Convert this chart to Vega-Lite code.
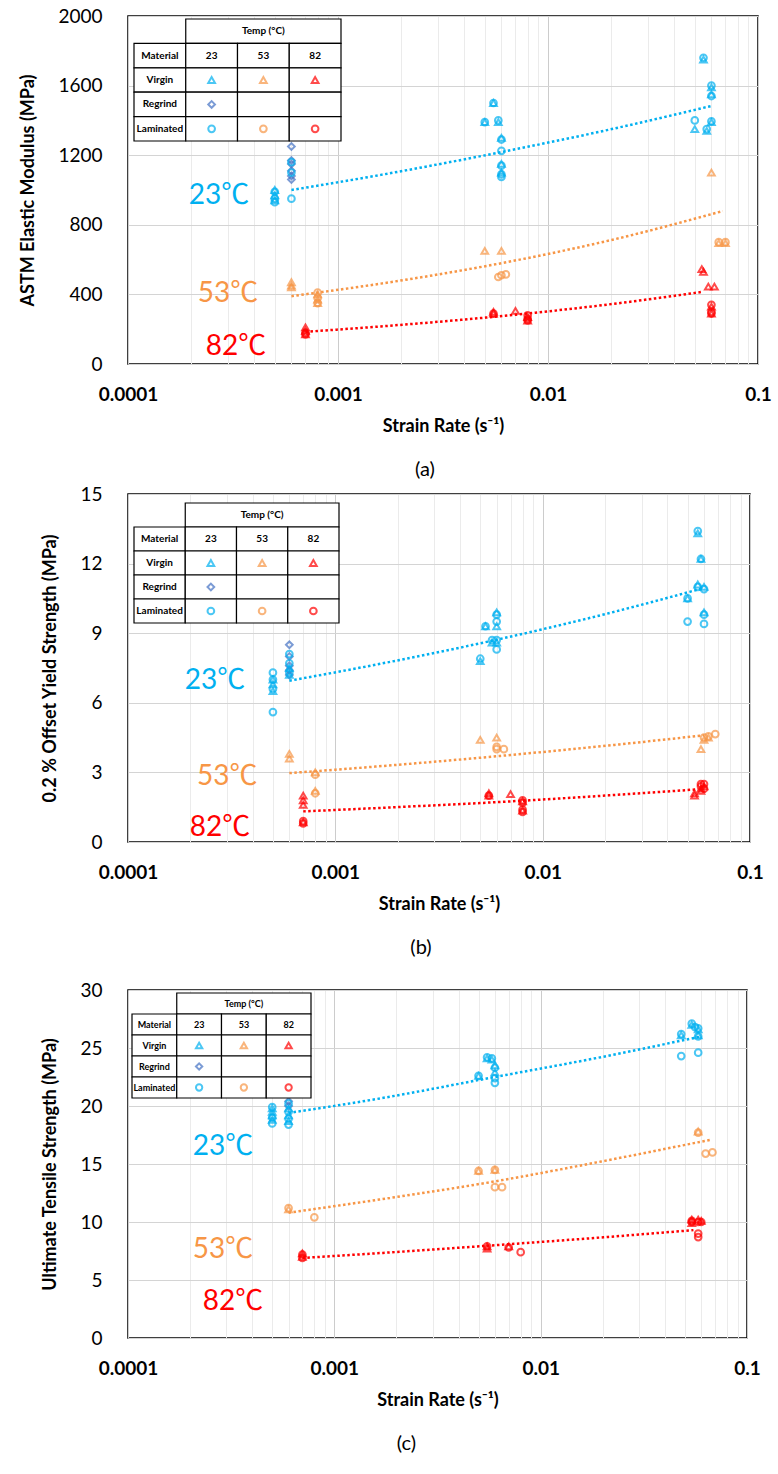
{
  "$schema": "https://vega.github.io/schema/vega-lite/v6.json",
  "background": "white",
  "padding": {"left": 19, "top": 6, "right": 10, "bottom": 4},
  "config": {
    "font": "Lato",
    "view": {"stroke": "black", "strokeWidth": 1.5},
    "axis": {"ticks": false, "domain": false, "labelFont": "Lato", "labelFontSize": 19, "labelColor": "#000", "titleFont": "Lato", "titleFontSize": 18, "titleFontWeight": "bold", "titleColor": "#000", "gridWidth": 1, "labelOverlap": false},
    "title": {"font": "Lato", "fontSize": 20, "fontWeight": "normal", "color": "#000"}
  },
  "datasets": {
    "tbl_rect": [
      {"row": "Temp", "from": "23", "to": "82"},
      {"row": "Material", "from": "Material", "to": "Material"}, {"row": "Material", "from": "23", "to": "23"}, {"row": "Material", "from": "53", "to": "53"}, {"row": "Material", "from": "82", "to": "82"},
      {"row": "Virgin", "from": "Material", "to": "Material"}, {"row": "Virgin", "from": "23", "to": "23"}, {"row": "Virgin", "from": "53", "to": "53"}, {"row": "Virgin", "from": "82", "to": "82"},
      {"row": "Regrind", "from": "Material", "to": "Material"}, {"row": "Regrind", "from": "23", "to": "23"}, {"row": "Regrind", "from": "53", "to": "53"}, {"row": "Regrind", "from": "82", "to": "82"},
      {"row": "Laminated", "from": "Material", "to": "Material"}, {"row": "Laminated", "from": "23", "to": "23"}, {"row": "Laminated", "from": "53", "to": "53"}, {"row": "Laminated", "from": "82", "to": "82"}
    ],
    "tbl_text": [
      {"row": "Temp", "col": "53", "text": "Temp (°C)"},
      {"row": "Material", "col": "Material", "text": "Material"}, {"row": "Material", "col": "23", "text": "23"}, {"row": "Material", "col": "53", "text": "53"}, {"row": "Material", "col": "82", "text": "82"},
      {"row": "Virgin", "col": "Material", "text": "Virgin"}, {"row": "Regrind", "col": "Material", "text": "Regrind"}, {"row": "Laminated", "col": "Material", "text": "Laminated"}
    ],
    "tbl_sym": [
      {"material": "Virgin", "temp": "23"}, {"material": "Virgin", "temp": "53"}, {"material": "Virgin", "temp": "82"},
      {"material": "Regrind", "temp": "23"},
      {"material": "Laminated", "temp": "23"}, {"material": "Laminated", "temp": "53"}, {"material": "Laminated", "temp": "82"}
    ],
    "annA": [{"temp": "23", "rate": 0.000271, "value": 965, "label": "23℃"}, {"temp": "53", "rate": 0.000299, "value": 402, "label": "53℃"}, {"temp": "82", "rate": 0.000327, "value": 98, "label": "82℃"}],
    "annB": [{"temp": "23", "rate": 0.000263, "value": 6.96, "label": "23℃"}, {"temp": "53", "rate": 0.000301, "value": 2.8, "label": "53℃"}, {"temp": "82", "rate": 0.000278, "value": 0.6, "label": "82℃"}],
    "annC": [{"temp": "23", "rate": 0.000289, "value": 16.5, "label": "23℃"}, {"temp": "53", "rate": 0.000289, "value": 7.6, "label": "53℃"}, {"temp": "82", "rate": 0.000323, "value": 3.1, "label": "82℃"}],
    "trA": [
      {"temp": "23", "rate": 0.0006, "value": 1000}, {"temp": "23", "rate": 0.0016, "value": 1087}, {"temp": "23", "rate": 0.006, "value": 1218}, {"temp": "23", "rate": 0.0208, "value": 1354}, {"temp": "23", "rate": 0.06, "value": 1483},
      {"temp": "53", "rate": 0.0006, "value": 390}, {"temp": "53", "rate": 0.0016, "value": 462}, {"temp": "53", "rate": 0.0064, "value": 586}, {"temp": "53", "rate": 0.0206, "value": 716}, {"temp": "53", "rate": 0.068, "value": 879},
      {"temp": "82", "rate": 0.0007, "value": 185}, {"temp": "82", "rate": 0.0016, "value": 216}, {"temp": "82", "rate": 0.0055, "value": 271}, {"temp": "82", "rate": 0.0206, "value": 346}, {"temp": "82", "rate": 0.054, "value": 414}
    ],
    "trB": [
      {"temp": "23", "rate": 0.0006, "value": 6.95}, {"temp": "23", "rate": 0.00156, "value": 7.64}, {"temp": "23", "rate": 0.006, "value": 8.72}, {"temp": "23", "rate": 0.0208, "value": 9.86}, {"temp": "23", "rate": 0.06, "value": 10.95},
      {"temp": "53", "rate": 0.0006, "value": 2.97}, {"temp": "53", "rate": 0.00156, "value": 3.25}, {"temp": "53", "rate": 0.0066, "value": 3.73}, {"temp": "53", "rate": 0.0208, "value": 4.16}, {"temp": "53", "rate": 0.06, "value": 4.6},
      {"temp": "82", "rate": 0.0007, "value": 1.32}, {"temp": "82", "rate": 0.00156, "value": 1.46}, {"temp": "82", "rate": 0.008, "value": 1.78}, {"temp": "82", "rate": 0.0208, "value": 2.01}, {"temp": "82", "rate": 0.056, "value": 2.27}
    ],
    "trC": [
      {"temp": "23", "rate": 0.0006, "value": 19.4}, {"temp": "23", "rate": 0.0016, "value": 20.6}, {"temp": "23", "rate": 0.006, "value": 22.5}, {"temp": "23", "rate": 0.0208, "value": 24.3}, {"temp": "23", "rate": 0.06, "value": 26.0},
      {"temp": "53", "rate": 0.0006, "value": 10.8}, {"temp": "53", "rate": 0.0016, "value": 11.9}, {"temp": "53", "rate": 0.006, "value": 13.5}, {"temp": "53", "rate": 0.0208, "value": 15.3}, {"temp": "53", "rate": 0.067, "value": 17.1},
      {"temp": "82", "rate": 0.0007, "value": 6.9}, {"temp": "82", "rate": 0.0016, "value": 7.3}, {"temp": "82", "rate": 0.006, "value": 8.0}, {"temp": "82", "rate": 0.0208, "value": 8.7}, {"temp": "82", "rate": 0.055, "value": 9.3}
    ],
    "ptsA": [
      {"rate": 0.0005, "value": 1000, "temp": "23", "material": "Virgin"}, {"rate": 0.0005, "value": 970, "temp": "23", "material": "Virgin"}, {"rate": 0.0005, "value": 940, "temp": "23", "material": "Virgin"},
      {"rate": 0.0005, "value": 990, "temp": "23", "material": "Laminated"}, {"rate": 0.0005, "value": 950, "temp": "23", "material": "Laminated"}, {"rate": 0.0005, "value": 930, "temp": "23", "material": "Laminated"},
      {"rate": 0.0006, "value": 1250, "temp": "23", "material": "Regrind"}, {"rate": 0.0006, "value": 1170, "temp": "23", "material": "Regrind"}, {"rate": 0.0006, "value": 1150, "temp": "23", "material": "Regrind"}, {"rate": 0.0006, "value": 1110, "temp": "23", "material": "Regrind"}, {"rate": 0.0006, "value": 1080, "temp": "23", "material": "Regrind"}, {"rate": 0.0006, "value": 1060, "temp": "23", "material": "Regrind"},
      {"rate": 0.0006, "value": 1160, "temp": "23", "material": "Laminated"}, {"rate": 0.0006, "value": 1100, "temp": "23", "material": "Laminated"}, {"rate": 0.0006, "value": 950, "temp": "23", "material": "Laminated"},
      {"rate": 0.005, "value": 1390, "temp": "23", "material": "Virgin"}, {"rate": 0.005, "value": 1390, "temp": "23", "material": "Laminated"},
      {"rate": 0.0055, "value": 1500, "temp": "23", "material": "Virgin"}, {"rate": 0.0055, "value": 1500, "temp": "23", "material": "Laminated"},
      {"rate": 0.0058, "value": 1390, "temp": "23", "material": "Virgin"}, {"rate": 0.0058, "value": 1400, "temp": "23", "material": "Laminated"},
      {"rate": 0.006, "value": 1300, "temp": "23", "material": "Virgin"}, {"rate": 0.006, "value": 1150, "temp": "23", "material": "Virgin"}, {"rate": 0.006, "value": 1100, "temp": "23", "material": "Virgin"},
      {"rate": 0.006, "value": 1290, "temp": "23", "material": "Laminated"}, {"rate": 0.006, "value": 1225, "temp": "23", "material": "Laminated"}, {"rate": 0.006, "value": 1140, "temp": "23", "material": "Laminated"}, {"rate": 0.006, "value": 1090, "temp": "23", "material": "Laminated"}, {"rate": 0.006, "value": 1075, "temp": "23", "material": "Laminated"},
      {"rate": 0.055, "value": 1750, "temp": "23", "material": "Virgin"}, {"rate": 0.055, "value": 1760, "temp": "23", "material": "Laminated"},
      {"rate": 0.06, "value": 1590, "temp": "23", "material": "Virgin"}, {"rate": 0.06, "value": 1550, "temp": "23", "material": "Virgin"}, {"rate": 0.06, "value": 1390, "temp": "23", "material": "Virgin"},
      {"rate": 0.06, "value": 1600, "temp": "23", "material": "Laminated"}, {"rate": 0.06, "value": 1540, "temp": "23", "material": "Laminated"}, {"rate": 0.06, "value": 1395, "temp": "23", "material": "Laminated"},
      {"rate": 0.05, "value": 1400, "temp": "23", "material": "Laminated"}, {"rate": 0.05, "value": 1350, "temp": "23", "material": "Virgin"},
      {"rate": 0.057, "value": 1340, "temp": "23", "material": "Virgin"}, {"rate": 0.057, "value": 1350, "temp": "23", "material": "Laminated"},
      {"rate": 0.0006, "value": 470, "temp": "53", "material": "Virgin"}, {"rate": 0.0006, "value": 450, "temp": "53", "material": "Virgin"}, {"rate": 0.0006, "value": 440, "temp": "53", "material": "Virgin"},
      {"rate": 0.0008, "value": 410, "temp": "53", "material": "Laminated"}, {"rate": 0.0008, "value": 380, "temp": "53", "material": "Laminated"}, {"rate": 0.0008, "value": 350, "temp": "53", "material": "Laminated"},
      {"rate": 0.0008, "value": 400, "temp": "53", "material": "Virgin"}, {"rate": 0.0008, "value": 370, "temp": "53", "material": "Virgin"}, {"rate": 0.0008, "value": 350, "temp": "53", "material": "Virgin"},
      {"rate": 0.005, "value": 650, "temp": "53", "material": "Virgin"}, {"rate": 0.006, "value": 650, "temp": "53", "material": "Virgin"},
      {"rate": 0.0058, "value": 500, "temp": "53", "material": "Laminated"}, {"rate": 0.006, "value": 510, "temp": "53", "material": "Laminated"}, {"rate": 0.0063, "value": 515, "temp": "53", "material": "Laminated"},
      {"rate": 0.06, "value": 1100, "temp": "53", "material": "Virgin"},
      {"rate": 0.065, "value": 700, "temp": "53", "material": "Laminated"}, {"rate": 0.07, "value": 700, "temp": "53", "material": "Laminated"}, {"rate": 0.065, "value": 695, "temp": "53", "material": "Virgin"}, {"rate": 0.07, "value": 695, "temp": "53", "material": "Virgin"},
      {"rate": 0.0007, "value": 210, "temp": "82", "material": "Virgin"}, {"rate": 0.0007, "value": 190, "temp": "82", "material": "Virgin"}, {"rate": 0.0007, "value": 170, "temp": "82", "material": "Virgin"},
      {"rate": 0.0007, "value": 180, "temp": "82", "material": "Laminated"}, {"rate": 0.0007, "value": 170, "temp": "82", "material": "Laminated"},
      {"rate": 0.0055, "value": 300, "temp": "82", "material": "Virgin"}, {"rate": 0.0055, "value": 290, "temp": "82", "material": "Virgin"}, {"rate": 0.0055, "value": 290, "temp": "82", "material": "Laminated"},
      {"rate": 0.007, "value": 305, "temp": "82", "material": "Virgin"},
      {"rate": 0.008, "value": 280, "temp": "82", "material": "Laminated"}, {"rate": 0.008, "value": 260, "temp": "82", "material": "Laminated"}, {"rate": 0.008, "value": 250, "temp": "82", "material": "Laminated"},
      {"rate": 0.008, "value": 270, "temp": "82", "material": "Virgin"}, {"rate": 0.008, "value": 250, "temp": "82", "material": "Virgin"},
      {"rate": 0.054, "value": 545, "temp": "82", "material": "Virgin"}, {"rate": 0.055, "value": 530, "temp": "82", "material": "Virgin"},
      {"rate": 0.058, "value": 445, "temp": "82", "material": "Virgin"}, {"rate": 0.062, "value": 445, "temp": "82", "material": "Virgin"},
      {"rate": 0.06, "value": 340, "temp": "82", "material": "Laminated"}, {"rate": 0.06, "value": 300, "temp": "82", "material": "Laminated"}, {"rate": 0.06, "value": 290, "temp": "82", "material": "Laminated"},
      {"rate": 0.06, "value": 330, "temp": "82", "material": "Virgin"}, {"rate": 0.06, "value": 290, "temp": "82", "material": "Virgin"}
    ],
    "ptsB": [
      {"rate": 0.0005, "value": 7.3, "temp": "23", "material": "Laminated"}, {"rate": 0.0005, "value": 7.0, "temp": "23", "material": "Laminated"}, {"rate": 0.0005, "value": 6.6, "temp": "23", "material": "Laminated"}, {"rate": 0.0005, "value": 5.6, "temp": "23", "material": "Laminated"},
      {"rate": 0.0005, "value": 7.0, "temp": "23", "material": "Virgin"}, {"rate": 0.0005, "value": 6.8, "temp": "23", "material": "Virgin"}, {"rate": 0.0005, "value": 6.5, "temp": "23", "material": "Virgin"},
      {"rate": 0.0006, "value": 8.5, "temp": "23", "material": "Regrind"}, {"rate": 0.0006, "value": 8.0, "temp": "23", "material": "Regrind"}, {"rate": 0.0006, "value": 7.6, "temp": "23", "material": "Regrind"}, {"rate": 0.0006, "value": 7.4, "temp": "23", "material": "Regrind"}, {"rate": 0.0006, "value": 7.2, "temp": "23", "material": "Regrind"},
      {"rate": 0.0006, "value": 8.1, "temp": "23", "material": "Laminated"}, {"rate": 0.0006, "value": 7.7, "temp": "23", "material": "Laminated"}, {"rate": 0.0006, "value": 7.3, "temp": "23", "material": "Laminated"},
      {"rate": 0.0006, "value": 7.5, "temp": "23", "material": "Virgin"}, {"rate": 0.0006, "value": 7.2, "temp": "23", "material": "Virgin"},
      {"rate": 0.005, "value": 7.8, "temp": "23", "material": "Virgin"}, {"rate": 0.005, "value": 7.9, "temp": "23", "material": "Laminated"},
      {"rate": 0.0053, "value": 9.3, "temp": "23", "material": "Virgin"}, {"rate": 0.0053, "value": 9.3, "temp": "23", "material": "Laminated"},
      {"rate": 0.006, "value": 9.9, "temp": "23", "material": "Virgin"}, {"rate": 0.006, "value": 9.3, "temp": "23", "material": "Virgin"}, {"rate": 0.006, "value": 8.6, "temp": "23", "material": "Virgin"},
      {"rate": 0.006, "value": 9.8, "temp": "23", "material": "Laminated"}, {"rate": 0.006, "value": 9.5, "temp": "23", "material": "Laminated"}, {"rate": 0.006, "value": 8.7, "temp": "23", "material": "Laminated"}, {"rate": 0.006, "value": 8.3, "temp": "23", "material": "Laminated"},
      {"rate": 0.0057, "value": 8.7, "temp": "23", "material": "Laminated"}, {"rate": 0.0057, "value": 8.6, "temp": "23", "material": "Virgin"},
      {"rate": 0.05, "value": 10.5, "temp": "23", "material": "Virgin"}, {"rate": 0.05, "value": 10.5, "temp": "23", "material": "Laminated"}, {"rate": 0.05, "value": 9.5, "temp": "23", "material": "Laminated"},
      {"rate": 0.056, "value": 13.3, "temp": "23", "material": "Virgin"}, {"rate": 0.056, "value": 13.4, "temp": "23", "material": "Laminated"}, {"rate": 0.056, "value": 11.1, "temp": "23", "material": "Virgin"}, {"rate": 0.056, "value": 11.0, "temp": "23", "material": "Laminated"},
      {"rate": 0.058, "value": 12.2, "temp": "23", "material": "Virgin"}, {"rate": 0.058, "value": 12.2, "temp": "23", "material": "Laminated"},
      {"rate": 0.06, "value": 11.0, "temp": "23", "material": "Virgin"}, {"rate": 0.06, "value": 10.9, "temp": "23", "material": "Laminated"}, {"rate": 0.06, "value": 9.9, "temp": "23", "material": "Virgin"}, {"rate": 0.06, "value": 9.8, "temp": "23", "material": "Laminated"}, {"rate": 0.06, "value": 9.4, "temp": "23", "material": "Laminated"},
      {"rate": 0.0006, "value": 3.8, "temp": "53", "material": "Virgin"}, {"rate": 0.0006, "value": 3.6, "temp": "53", "material": "Virgin"},
      {"rate": 0.0008, "value": 3.0, "temp": "53", "material": "Virgin"}, {"rate": 0.0008, "value": 2.9, "temp": "53", "material": "Laminated"}, {"rate": 0.0008, "value": 2.2, "temp": "53", "material": "Virgin"}, {"rate": 0.0008, "value": 2.1, "temp": "53", "material": "Laminated"},
      {"rate": 0.005, "value": 4.4, "temp": "53", "material": "Virgin"}, {"rate": 0.006, "value": 4.5, "temp": "53", "material": "Virgin"},
      {"rate": 0.006, "value": 4.1, "temp": "53", "material": "Laminated"}, {"rate": 0.006, "value": 4.0, "temp": "53", "material": "Laminated"}, {"rate": 0.0065, "value": 4.0, "temp": "53", "material": "Laminated"},
      {"rate": 0.058, "value": 4.0, "temp": "53", "material": "Virgin"}, {"rate": 0.06, "value": 4.4, "temp": "53", "material": "Virgin"}, {"rate": 0.06, "value": 4.5, "temp": "53", "material": "Laminated"}, {"rate": 0.063, "value": 4.55, "temp": "53", "material": "Laminated"}, {"rate": 0.068, "value": 4.65, "temp": "53", "material": "Laminated"}, {"rate": 0.063, "value": 4.5, "temp": "53", "material": "Virgin"},
      {"rate": 0.0007, "value": 2.0, "temp": "82", "material": "Virgin"}, {"rate": 0.0007, "value": 1.8, "temp": "82", "material": "Virgin"}, {"rate": 0.0007, "value": 1.6, "temp": "82", "material": "Virgin"},
      {"rate": 0.0007, "value": 0.9, "temp": "82", "material": "Laminated"}, {"rate": 0.0007, "value": 0.8, "temp": "82", "material": "Laminated"}, {"rate": 0.0007, "value": 0.85, "temp": "82", "material": "Virgin"},
      {"rate": 0.0055, "value": 2.1, "temp": "82", "material": "Virgin"}, {"rate": 0.0055, "value": 2.0, "temp": "82", "material": "Virgin"}, {"rate": 0.0055, "value": 2.0, "temp": "82", "material": "Laminated"},
      {"rate": 0.007, "value": 2.06, "temp": "82", "material": "Virgin"},
      {"rate": 0.008, "value": 1.8, "temp": "82", "material": "Laminated"}, {"rate": 0.008, "value": 1.7, "temp": "82", "material": "Laminated"}, {"rate": 0.008, "value": 1.75, "temp": "82", "material": "Virgin"},
      {"rate": 0.008, "value": 1.4, "temp": "82", "material": "Laminated"}, {"rate": 0.008, "value": 1.3, "temp": "82", "material": "Laminated"}, {"rate": 0.008, "value": 1.35, "temp": "82", "material": "Virgin"},
      {"rate": 0.054, "value": 2.0, "temp": "82", "material": "Virgin"}, {"rate": 0.054, "value": 2.1, "temp": "82", "material": "Virgin"}, {"rate": 0.058, "value": 2.2, "temp": "82", "material": "Virgin"}, {"rate": 0.058, "value": 2.3, "temp": "82", "material": "Virgin"},
      {"rate": 0.058, "value": 2.4, "temp": "82", "material": "Laminated"}, {"rate": 0.058, "value": 2.5, "temp": "82", "material": "Laminated"}, {"rate": 0.06, "value": 2.5, "temp": "82", "material": "Laminated"}, {"rate": 0.06, "value": 2.3, "temp": "82", "material": "Laminated"}, {"rate": 0.06, "value": 2.4, "temp": "82", "material": "Virgin"}
    ],
    "ptsC": [
      {"rate": 0.0005, "value": 19.8, "temp": "23", "material": "Virgin"}, {"rate": 0.0005, "value": 19.5, "temp": "23", "material": "Virgin"}, {"rate": 0.0005, "value": 19.2, "temp": "23", "material": "Virgin"}, {"rate": 0.0005, "value": 18.8, "temp": "23", "material": "Virgin"},
      {"rate": 0.0005, "value": 19.9, "temp": "23", "material": "Laminated"}, {"rate": 0.0005, "value": 19.0, "temp": "23", "material": "Laminated"}, {"rate": 0.0005, "value": 18.5, "temp": "23", "material": "Laminated"},
      {"rate": 0.0006, "value": 20.4, "temp": "23", "material": "Regrind"}, {"rate": 0.0006, "value": 20.0, "temp": "23", "material": "Regrind"},
      {"rate": 0.0006, "value": 19.8, "temp": "23", "material": "Virgin"}, {"rate": 0.0006, "value": 19.2, "temp": "23", "material": "Virgin"}, {"rate": 0.0006, "value": 18.7, "temp": "23", "material": "Virgin"},
      {"rate": 0.0006, "value": 20.2, "temp": "23", "material": "Laminated"}, {"rate": 0.0006, "value": 19.5, "temp": "23", "material": "Laminated"}, {"rate": 0.0006, "value": 18.9, "temp": "23", "material": "Laminated"}, {"rate": 0.0006, "value": 18.4, "temp": "23", "material": "Laminated"},
      {"rate": 0.005, "value": 22.6, "temp": "23", "material": "Virgin"}, {"rate": 0.005, "value": 22.6, "temp": "23", "material": "Laminated"},
      {"rate": 0.0055, "value": 24.1, "temp": "23", "material": "Virgin"}, {"rate": 0.0055, "value": 24.2, "temp": "23", "material": "Laminated"}, {"rate": 0.0058, "value": 24.0, "temp": "23", "material": "Virgin"}, {"rate": 0.0058, "value": 24.1, "temp": "23", "material": "Laminated"},
      {"rate": 0.006, "value": 23.5, "temp": "23", "material": "Virgin"}, {"rate": 0.006, "value": 22.9, "temp": "23", "material": "Virgin"},
      {"rate": 0.006, "value": 23.3, "temp": "23", "material": "Laminated"}, {"rate": 0.006, "value": 22.4, "temp": "23", "material": "Laminated"}, {"rate": 0.006, "value": 22.0, "temp": "23", "material": "Laminated"},
      {"rate": 0.048, "value": 26.1, "temp": "23", "material": "Virgin"}, {"rate": 0.048, "value": 26.2, "temp": "23", "material": "Laminated"}, {"rate": 0.048, "value": 24.3, "temp": "23", "material": "Laminated"},
      {"rate": 0.054, "value": 27.0, "temp": "23", "material": "Virgin"}, {"rate": 0.054, "value": 27.1, "temp": "23", "material": "Laminated"}, {"rate": 0.056, "value": 26.8, "temp": "23", "material": "Laminated"},
      {"rate": 0.058, "value": 26.6, "temp": "23", "material": "Virgin"}, {"rate": 0.058, "value": 26.7, "temp": "23", "material": "Laminated"}, {"rate": 0.058, "value": 26.1, "temp": "23", "material": "Virgin"}, {"rate": 0.058, "value": 26.0, "temp": "23", "material": "Laminated"}, {"rate": 0.058, "value": 24.6, "temp": "23", "material": "Laminated"},
      {"rate": 0.0006, "value": 11.1, "temp": "53", "material": "Virgin"}, {"rate": 0.0006, "value": 11.2, "temp": "53", "material": "Laminated"},
      {"rate": 0.0008, "value": 10.4, "temp": "53", "material": "Laminated"},
      {"rate": 0.005, "value": 14.4, "temp": "53", "material": "Virgin"}, {"rate": 0.005, "value": 14.4, "temp": "53", "material": "Laminated"}, {"rate": 0.006, "value": 14.5, "temp": "53", "material": "Virgin"}, {"rate": 0.006, "value": 14.5, "temp": "53", "material": "Laminated"},
      {"rate": 0.006, "value": 13.0, "temp": "53", "material": "Laminated"}, {"rate": 0.0065, "value": 13.0, "temp": "53", "material": "Laminated"},
      {"rate": 0.058, "value": 17.8, "temp": "53", "material": "Virgin"}, {"rate": 0.058, "value": 17.7, "temp": "53", "material": "Laminated"},
      {"rate": 0.063, "value": 15.9, "temp": "53", "material": "Laminated"}, {"rate": 0.068, "value": 16.0, "temp": "53", "material": "Laminated"},
      {"rate": 0.0007, "value": 7.3, "temp": "82", "material": "Virgin"}, {"rate": 0.0007, "value": 7.0, "temp": "82", "material": "Virgin"}, {"rate": 0.0007, "value": 7.2, "temp": "82", "material": "Laminated"}, {"rate": 0.0007, "value": 6.9, "temp": "82", "material": "Laminated"},
      {"rate": 0.0055, "value": 7.9, "temp": "82", "material": "Virgin"}, {"rate": 0.0055, "value": 7.9, "temp": "82", "material": "Laminated"}, {"rate": 0.0055, "value": 7.7, "temp": "82", "material": "Virgin"},
      {"rate": 0.007, "value": 7.9, "temp": "82", "material": "Virgin"}, {"rate": 0.007, "value": 7.8, "temp": "82", "material": "Laminated"},
      {"rate": 0.008, "value": 7.4, "temp": "82", "material": "Laminated"},
      {"rate": 0.054, "value": 10.2, "temp": "82", "material": "Virgin"}, {"rate": 0.054, "value": 10.1, "temp": "82", "material": "Laminated"}, {"rate": 0.054, "value": 9.9, "temp": "82", "material": "Virgin"}, {"rate": 0.054, "value": 10.0, "temp": "82", "material": "Laminated"},
      {"rate": 0.058, "value": 10.2, "temp": "82", "material": "Virgin"}, {"rate": 0.058, "value": 10.0, "temp": "82", "material": "Laminated"}, {"rate": 0.058, "value": 9.0, "temp": "82", "material": "Laminated"}, {"rate": 0.058, "value": 8.7, "temp": "82", "material": "Laminated"},
      {"rate": 0.06, "value": 10.1, "temp": "82", "material": "Virgin"}, {"rate": 0.06, "value": 10.0, "temp": "82", "material": "Laminated"}
    ]
  },
  "spacing": 3,
  "vconcat": [
    {
      "width": 630, "height": 348,
      "title": {"text": "(a)", "orient": "bottom", "offset": 25, "dx": -18},
      "resolve": {"scale": {"x": "independent", "y": "independent"}},
      "layer": [
        {
          "resolve": {"axis": {"y": "independent"}},
          "layer": [
            {
              "data": {"name": "trA"},
              "mark": {"type": "line", "strokeDash": [2.5, 2.5], "strokeWidth": 2.5, "interpolate": "monotone"},
              "encoding": {
                "x": {"field": "rate", "type": "quantitative", "scale": {"type": "log", "domain": [0.0001, 0.1], "nice": false},
                  "axis": {"title": "Strain Rate (s⁻¹)", "tickCount": 200, "values": [0.0001,0.0002,0.0003,0.0004,0.0005,0.0006,0.0007,0.0008,0.0009,0.001,0.002,0.003,0.004,0.005,0.006,0.007,0.008,0.009,0.01,0.02,0.03,0.04,0.05,0.06,0.07,0.08,0.09,0.1], "format": "~g", "labelExpr": "indexof([0.0001,0.001,0.01,0.1], datum.value) >= 0 ? datum.label : ''", "labelFontWeight": "bold", "labelPadding": 21, "labelFlush": false, "labelOverlap": false, "titlePadding": 13, "gridColor": {"condition": {"test": "indexof([0.0001,0.001,0.01,0.1], datum.value) >= 0", "value": "#cccccc"}, "value": "#ebebeb"}}},
                "y": {"field": "value", "type": "quantitative", "scale": {"domain": [0, 2000], "nice": false},
                  "axis": {"title": "ASTM Elastic Modulus (MPa)", "tickCount": 200, "values": [0,400,800,1200,1600,2000], "format": "d", "labelPadding": 26, "labelOverlap": false, "titlePadding": 20, "gridColor": "#d4d4d4"}},
                "color": {"field": "temp", "type": "nominal", "scale": {"domain": ["23", "53", "82"], "range": ["#00B0F0", "#F79646", "#FF0000"]}, "legend": null},
                "detail": {"field": "temp"}
              }
            },
            {
              "data": {"name": "ptsA"},
              "mark": {"type": "point", "filled": false, "strokeWidth": 2, "size": 45},
              "encoding": {
                "x": {"field": "rate", "type": "quantitative"},
                "y": {"field": "value", "type": "quantitative",
                  "axis": {"orient": "right", "title": null, "labels": false, "tickCount": 200, "values": [80,160,240,320,480,560,640,720,880,960,1040,1120,1280,1360,1440,1520,1680,1760,1840,1920], "gridColor": "#efefef"}},
                "shape": {"field": "material", "type": "nominal", "scale": {"domain": ["Virgin", "Regrind", "Laminated"], "range": ["triangle-up", "diamond", "circle"]}, "legend": null},
                "color": {"condition": {"test": "datum.material === 'Regrind'", "value": "#4472C4"}, "field": "temp", "type": "nominal", "legend": null}
              }
            },
            {
              "data": {"name": "annA"},
              "mark": {"type": "text", "fontSize": 28, "font": "Lato, Noto Sans CJK JP", "align": "center", "baseline": "middle"},
              "encoding": {
                "x": {"field": "rate", "type": "quantitative"},
                "y": {"field": "value", "type": "quantitative", "axis": null},
                "text": {"field": "label"},
                "color": {"field": "temp", "type": "nominal", "legend": null}
              }
            }
          ]
        },
        {
          "layer": [
            {
              "data": {"name": "tbl_rect"},
              "mark": {"type": "rect", "fill": "white", "stroke": "black", "strokeWidth": 1.2},
              "encoding": {
                "x": {"field": "from", "type": "nominal", "bandPosition": 0, "scale": {"type": "band", "domain": ["Material", "23", "53", "82"], "range": [6, 213], "paddingInner": 0, "paddingOuter": 0}, "axis": null},
                "x2": {"field": "to", "bandPosition": 1},
                "y": {"field": "row", "type": "nominal", "scale": {"type": "band", "domain": ["Temp", "Material", "Virgin", "Regrind", "Laminated"], "range": [3, 125], "paddingInner": 0, "paddingOuter": 0}, "axis": null}
              }
            },
            {
              "data": {"name": "tbl_text"},
              "mark": {"type": "text", "fontSize": 10, "fontWeight": "bold", "color": "black"},
              "encoding": {
                "x": {"field": "col", "type": "nominal"},
                "y": {"field": "row", "type": "nominal"},
                "text": {"field": "text"}
              }
            },
            {
              "data": {"name": "tbl_sym"},
              "mark": {"type": "point", "filled": false, "strokeWidth": 2, "size": 45},
              "encoding": {
                "x": {"field": "temp", "type": "nominal"},
                "y": {"field": "material", "type": "nominal"},
                "shape": {"field": "material", "type": "nominal", "legend": null},
                "color": {"condition": {"test": "datum.material === 'Regrind'", "value": "#4472C4"}, "field": "temp", "type": "nominal", "legend": null}
              }
            }
          ]
        }
      ]
    },
    {
      "width": 622, "height": 348,
      "title": {"text": ["(b)", " "], "orient": "bottom", "offset": 25, "dx": -18, "lineHeight": 18},
      "resolve": {"scale": {"x": "independent", "y": "independent"}},
      "layer": [
        {
          "resolve": {"axis": {"y": "independent"}},
          "layer": [
            {
              "data": {"name": "trB"},
              "mark": {"type": "line", "strokeDash": [2.5, 2.5], "strokeWidth": 2.5, "interpolate": "monotone"},
              "encoding": {
                "x": {"field": "rate", "type": "quantitative", "scale": {"type": "log", "domain": [0.0001, 0.1], "nice": false},
                  "axis": {"title": "Strain Rate (s⁻¹)", "tickCount": 200, "values": [0.0001,0.0002,0.0003,0.0004,0.0005,0.0006,0.0007,0.0008,0.0009,0.001,0.002,0.003,0.004,0.005,0.006,0.007,0.008,0.009,0.01,0.02,0.03,0.04,0.05,0.06,0.07,0.08,0.09,0.1], "format": "~g", "labelExpr": "indexof([0.0001,0.001,0.01,0.1], datum.value) >= 0 ? datum.label : ''", "labelFontWeight": "bold", "labelPadding": 21, "labelFlush": false, "labelOverlap": false, "titlePadding": 13, "gridColor": {"condition": {"test": "indexof([0.0001,0.001,0.01,0.1], datum.value) >= 0", "value": "#cccccc"}, "value": "#ebebeb"}}},
                "y": {"field": "value", "type": "quantitative", "scale": {"domain": [0, 15], "nice": false},
                  "axis": {"title": "0.2 % Offset Yield Strength (MPa)", "tickCount": 200, "values": [0,3,6,9,12,15], "format": "d", "labelPadding": 26, "labelOverlap": false, "titlePadding": 20, "gridColor": "#d4d4d4"}},
                "color": {"field": "temp", "type": "nominal", "scale": {"domain": ["23", "53", "82"], "range": ["#00B0F0", "#F79646", "#FF0000"]}, "legend": null},
                "detail": {"field": "temp"}
              }
            },
            {
              "data": {"name": "ptsB"},
              "mark": {"type": "point", "filled": false, "strokeWidth": 2, "size": 45},
              "encoding": {
                "x": {"field": "rate", "type": "quantitative"},
                "y": {"field": "value", "type": "quantitative",
                  "axis": {"orient": "right", "title": null, "labels": false, "tickCount": 200, "values": [0.6,1.2,1.8,2.4,3.6,4.2,4.8,5.4,6.6,7.2,7.8,8.4,9.6,10.2,10.8,11.4,12.6,13.2,13.8,14.4], "gridColor": "#efefef"}},
                "shape": {"field": "material", "type": "nominal", "scale": {"domain": ["Virgin", "Regrind", "Laminated"], "range": ["triangle-up", "diamond", "circle"]}, "legend": null},
                "color": {"condition": {"test": "datum.material === 'Regrind'", "value": "#4472C4"}, "field": "temp", "type": "nominal", "legend": null}
              }
            },
            {
              "data": {"name": "annB"},
              "mark": {"type": "text", "fontSize": 28, "font": "Lato, Noto Sans CJK JP", "align": "center", "baseline": "middle"},
              "encoding": {
                "x": {"field": "rate", "type": "quantitative"},
                "y": {"field": "value", "type": "quantitative", "axis": null},
                "text": {"field": "label"},
                "color": {"field": "temp", "type": "nominal", "legend": null}
              }
            }
          ]
        },
        {
          "layer": [
            {
              "data": {"name": "tbl_rect"},
              "mark": {"type": "rect", "fill": "white", "stroke": "black", "strokeWidth": 1.2},
              "encoding": {
                "x": {"field": "from", "type": "nominal", "bandPosition": 0, "scale": {"type": "band", "domain": ["Material", "23", "53", "82"], "range": [6, 211], "paddingInner": 0, "paddingOuter": 0}, "axis": null},
                "x2": {"field": "to", "bandPosition": 1},
                "y": {"field": "row", "type": "nominal", "scale": {"type": "band", "domain": ["Temp", "Material", "Virgin", "Regrind", "Laminated"], "range": [9, 129], "paddingInner": 0, "paddingOuter": 0}, "axis": null}
              }
            },
            {
              "data": {"name": "tbl_text"},
              "mark": {"type": "text", "fontSize": 10, "fontWeight": "bold", "color": "black"},
              "encoding": {
                "x": {"field": "col", "type": "nominal"},
                "y": {"field": "row", "type": "nominal"},
                "text": {"field": "text"}
              }
            },
            {
              "data": {"name": "tbl_sym"},
              "mark": {"type": "point", "filled": false, "strokeWidth": 2, "size": 45},
              "encoding": {
                "x": {"field": "temp", "type": "nominal"},
                "y": {"field": "material", "type": "nominal"},
                "shape": {"field": "material", "type": "nominal", "legend": null},
                "color": {"condition": {"test": "datum.material === 'Regrind'", "value": "#4472C4"}, "field": "temp", "type": "nominal", "legend": null}
              }
            }
          ]
        }
      ]
    },
    {
      "width": 619, "height": 348,
      "title": {"text": "(c)", "orient": "bottom", "offset": 25, "dx": -31},
      "resolve": {"scale": {"x": "independent", "y": "independent"}},
      "layer": [
        {
          "resolve": {"axis": {"y": "independent"}},
          "layer": [
            {
              "data": {"name": "trC"},
              "mark": {"type": "line", "strokeDash": [2.5, 2.5], "strokeWidth": 2.5, "interpolate": "monotone"},
              "encoding": {
                "x": {"field": "rate", "type": "quantitative", "scale": {"type": "log", "domain": [0.0001, 0.1], "nice": false},
                  "axis": {"title": "Strain Rate (s⁻¹)", "tickCount": 200, "values": [0.0001,0.0002,0.0003,0.0004,0.0005,0.0006,0.0007,0.0008,0.0009,0.001,0.002,0.003,0.004,0.005,0.006,0.007,0.008,0.009,0.01,0.02,0.03,0.04,0.05,0.06,0.07,0.08,0.09,0.1], "format": "~g", "labelExpr": "indexof([0.0001,0.001,0.01,0.1], datum.value) >= 0 ? datum.label : ''", "labelFontWeight": "bold", "labelPadding": 21, "labelFlush": false, "labelOverlap": false, "titlePadding": 13, "gridColor": {"condition": {"test": "indexof([0.0001,0.001,0.01,0.1], datum.value) >= 0", "value": "#cccccc"}, "value": "#ebebeb"}}},
                "y": {"field": "value", "type": "quantitative", "scale": {"domain": [0, 30], "nice": false},
                  "axis": {"title": "Ultimate Tensile Strength (MPa)", "tickCount": 200, "values": [0,5,10,15,20,25,30], "format": "d", "labelPadding": 26, "labelOverlap": false, "titlePadding": 20, "gridColor": "#d4d4d4"}},
                "color": {"field": "temp", "type": "nominal", "scale": {"domain": ["23", "53", "82"], "range": ["#00B0F0", "#F79646", "#FF0000"]}, "legend": null},
                "detail": {"field": "temp"}
              }
            },
            {
              "data": {"name": "ptsC"},
              "mark": {"type": "point", "filled": false, "strokeWidth": 2, "size": 45},
              "encoding": {
                "x": {"field": "rate", "type": "quantitative"},
                "y": {"field": "value", "type": "quantitative",
                  "axis": {"orient": "right", "title": null, "labels": false, "tickCount": 200, "values": [1,2,3,4,6,7,8,9,11,12,13,14,16,17,18,19,21,22,23,24,26,27,28,29], "gridColor": "#efefef"}},
                "shape": {"field": "material", "type": "nominal", "scale": {"domain": ["Virgin", "Regrind", "Laminated"], "range": ["triangle-up", "diamond", "circle"]}, "legend": null},
                "color": {"condition": {"test": "datum.material === 'Regrind'", "value": "#4472C4"}, "field": "temp", "type": "nominal", "legend": null}
              }
            },
            {
              "data": {"name": "annC"},
              "mark": {"type": "text", "fontSize": 28, "font": "Lato, Noto Sans CJK JP", "align": "center", "baseline": "middle"},
              "encoding": {
                "x": {"field": "rate", "type": "quantitative"},
                "y": {"field": "value", "type": "quantitative", "axis": null},
                "text": {"field": "label"},
                "color": {"field": "temp", "type": "nominal", "legend": null}
              }
            }
          ]
        },
        {
          "layer": [
            {
              "data": {"name": "tbl_rect"},
              "mark": {"type": "rect", "fill": "white", "stroke": "black", "strokeWidth": 1.2},
              "encoding": {
                "x": {"field": "from", "type": "nominal", "bandPosition": 0, "scale": {"type": "band", "domain": ["Material", "23", "53", "82"], "range": [4, 183], "paddingInner": 0, "paddingOuter": 0}, "axis": null},
                "x2": {"field": "to", "bandPosition": 1},
                "y": {"field": "row", "type": "nominal", "scale": {"type": "band", "domain": ["Temp", "Material", "Virgin", "Regrind", "Laminated"], "range": [3, 108], "paddingInner": 0, "paddingOuter": 0}, "axis": null}
              }
            },
            {
              "data": {"name": "tbl_text"},
              "mark": {"type": "text", "fontSize": 9, "fontWeight": "bold", "color": "black"},
              "encoding": {
                "x": {"field": "col", "type": "nominal"},
                "y": {"field": "row", "type": "nominal"},
                "text": {"field": "text"}
              }
            },
            {
              "data": {"name": "tbl_sym"},
              "mark": {"type": "point", "filled": false, "strokeWidth": 2, "size": 40},
              "encoding": {
                "x": {"field": "temp", "type": "nominal"},
                "y": {"field": "material", "type": "nominal"},
                "shape": {"field": "material", "type": "nominal", "legend": null},
                "color": {"condition": {"test": "datum.material === 'Regrind'", "value": "#4472C4"}, "field": "temp", "type": "nominal", "legend": null}
              }
            }
          ]
        }
      ]
    }
  ]
}
